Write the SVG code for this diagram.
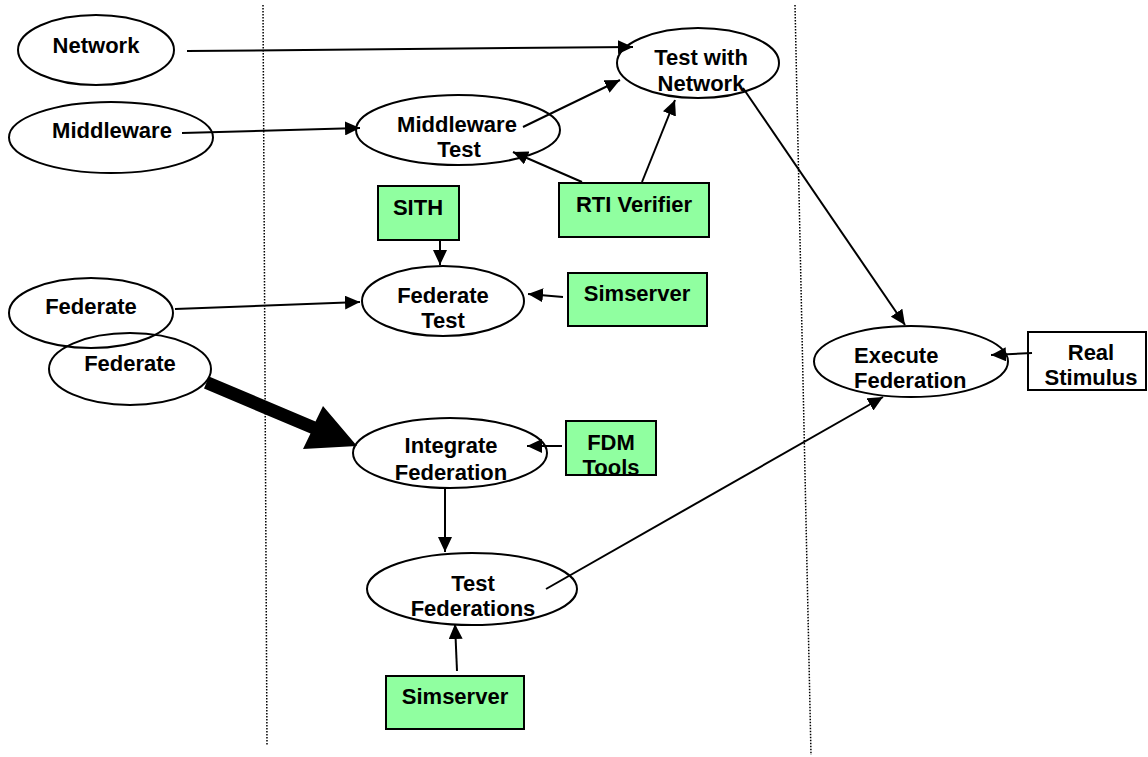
<svg xmlns="http://www.w3.org/2000/svg" width="1148" height="757" viewBox="0 0 1148 757">
  <style>
    .ell { fill: none; stroke: #000; stroke-width: 2; }
    .box { fill: #90FFA0; stroke: #000; stroke-width: 2; }
    .wbox { fill: #fff; stroke: #000; stroke-width: 2; }
    .lbl { font-family: "Liberation Sans", Arial, sans-serif; font-weight: bold; font-size: 22px; fill: #000; text-anchor: middle; }
    .lft { text-anchor: start; }
    .sep { stroke: #000; stroke-width: 1.5; stroke-dasharray: 1.5 1.5; fill: none; }
    .edge { stroke: #000; stroke-width: 2; fill: none; marker-end: url(#arrow); }
  </style>
  <defs>
    <marker id="arrow" markerUnits="userSpaceOnUse" markerWidth="16" markerHeight="14" refX="15" refY="7" orient="auto">
      <path d="M0,0 L15,7 L0,14 z" fill="#000"/>
    </marker>
  </defs>

  <rect width="1148" height="757" fill="#fff"/>

  <!-- phase separators -->
  <g id="separators">
    <line class="sep" x1="263" y1="5" x2="267" y2="745"/>
    <line class="sep" x1="795" y1="5" x2="811" y2="755"/>
  </g>

  <g id="network">
    <ellipse class="ell" cx="96" cy="50" rx="78" ry="35"/>
    <text class="lbl" x="96" y="53">Network</text>
  </g>
  <g id="middleware">
    <ellipse class="ell" cx="111" cy="137.5" rx="102" ry="35.5"/>
    <text class="lbl" x="112" y="138">Middleware</text>
  </g>
  <g id="federate-a">
    <ellipse class="ell" cx="91" cy="313" rx="82" ry="35"/>
    <text class="lbl" x="91" y="314">Federate</text>
  </g>
  <g id="federate-b">
    <ellipse class="ell" cx="130" cy="369" rx="81" ry="36"/>
    <text class="lbl" x="130" y="371">Federate</text>
  </g>

  <g id="test-with-network">
    <ellipse class="ell" cx="698" cy="63" rx="81" ry="35"/>
    <text class="lbl" x="701" y="65">Test with</text>
    <text class="lbl" x="701" y="91">Network</text>
  </g>
  <g id="middleware-test">
    <ellipse class="ell" cx="458" cy="130" rx="102" ry="35"/>
    <text class="lbl" x="457" y="132">Middleware</text>
    <text class="lbl" x="459" y="157">Test</text>
  </g>
  <g id="sith">
    <rect class="box" x="378" y="186" width="81" height="54"/>
    <text class="lbl" x="418" y="215">SITH</text>
  </g>
  <g id="rti-verifier">
    <rect class="box" x="559" y="183" width="150" height="54"/>
    <text class="lbl" x="634" y="212">RTI Verifier</text>
  </g>
  <g id="federate-test">
    <ellipse class="ell" cx="443" cy="301" rx="81" ry="35"/>
    <text class="lbl" x="443" y="303">Federate</text>
    <text class="lbl" x="443" y="328">Test</text>
  </g>
  <g id="simserver-top">
    <rect class="box" x="568" y="273" width="139" height="53"/>
    <text class="lbl" x="637" y="301">Simserver</text>
  </g>
  <g id="integrate-federation">
    <ellipse class="ell" cx="450" cy="453" rx="97" ry="35"/>
    <text class="lbl" x="451" y="453">Integrate</text>
    <text class="lbl" x="451" y="480">Federation</text>
  </g>
  <g id="fdm-tools">
    <rect class="box" x="566" y="421" width="90" height="54"/>
    <text class="lbl" x="611" y="450">FDM</text>
    <text class="lbl" x="611" y="475">Tools</text>
  </g>
  <g id="test-federations">
    <ellipse class="ell" cx="472" cy="589" rx="105" ry="36"/>
    <text class="lbl" x="473" y="591">Test</text>
    <text class="lbl" x="473" y="616">Federations</text>
  </g>
  <g id="simserver-bottom">
    <rect class="box" x="386" y="676" width="138" height="53"/>
    <text class="lbl" x="455" y="704">Simserver</text>
  </g>
  <g id="execute-federation">
    <ellipse class="ell" cx="911" cy="361.5" rx="97" ry="35.5"/>
    <text class="lbl lft" x="854" y="363">Execute</text>
    <text class="lbl lft" x="854" y="388">Federation</text>
  </g>
  <g id="real-stimulus">
    <rect class="wbox" x="1028" y="332" width="118" height="58"/>
    <text class="lbl" x="1091" y="360">Real</text>
    <text class="lbl" x="1091" y="385">Stimulus</text>
  </g>

  <g id="connectors">
    <line class="edge" x1="187" y1="51" x2="633" y2="47"/>
    <line class="edge" x1="182" y1="133" x2="360" y2="128"/>
    <line class="edge" x1="523" y1="127" x2="620" y2="80"/>
    <line class="edge" x1="582" y1="182" x2="513" y2="152"/>
    <line class="edge" x1="642" y1="182" x2="675" y2="100"/>
    <line class="edge" x1="440" y1="240" x2="440" y2="265"/>
    <line class="edge" x1="563" y1="297" x2="528" y2="294"/>
    <line class="edge" x1="175" y1="309" x2="360" y2="302"/>
    <polygon points="209,376.5 315.5,421.5 323,406 357,446 303,449 310.5,433.5 204,388.5" fill="#000"/>
    <line class="edge" x1="562" y1="446" x2="527" y2="446"/>
    <line class="edge" x1="445" y1="488" x2="445" y2="552"/>
    <line class="edge" x1="457" y1="671" x2="455" y2="624"/>
    <line class="edge" x1="546" y1="589" x2="883" y2="397"/>
    <line class="edge" x1="743" y1="88" x2="905" y2="325"/>
    <line class="edge" x1="1032" y1="353" x2="991" y2="355"/>
  </g>
</svg>
